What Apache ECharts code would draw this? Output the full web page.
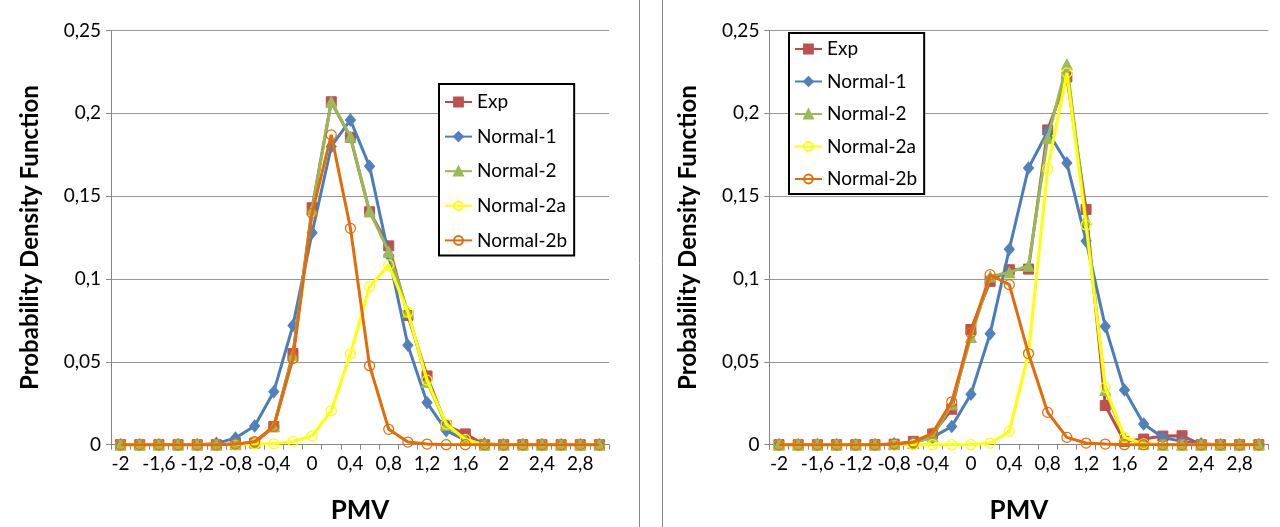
<!DOCTYPE html>
<html>
<head>
<meta charset="utf-8">
<script src="https://cdn.jsdelivr.net/npm/echarts@6/dist/echarts.min.js"></script>
<style>
html,body{margin:0;padding:0;background:#fff;}
#chart{width:1280px;height:527px;}
</style>
</head>
<body>
<div id="chart"></div>
<script>
// PMV categories (x axis)
var categories = [-2,-1.8,-1.6,-1.4,-1.2,-1,-0.8,-0.6,-0.4,-0.2,0,0.2,0.4,0.6,0.8,1,1.2,1.4,1.6,1.8,2,2.2,2.4,2.6,2.8,3];
var yTicks = [0, 0.05, 0.1, 0.15, 0.2, 0.25];
var seriesNames = ['Exp','Normal-1','Normal-2','Normal-2a','Normal-2b'];

// Left chart
var leftExp  = [0,0,0,0,0,0,0.0005,0.001,0.011,0.055,0.143,0.207,0.1855,0.1406,0.120,0.078,0.0415,0.0115,0.0065,0,0,0,0,0,0,0];
var leftN1   = [0,0,0,0,0,0.0008,0.004,0.0113,0.032,0.072,0.128,0.18,0.196,0.168,0.1145,0.060,0.0254,0.0085,0.0028,0.0005,0,0,0,0,0,0];
var leftN2   = [0,0,0,0,0,0,0.0003,0.0015,0.011,0.054,0.142,0.207,0.186,0.141,0.1165,0.080,0.038,0.012,0.003,0,0,0,0,0,0,0];
var leftN2a  = [0,0,0,0,0,0,0,0.0005,0.0005,0.002,0.0053,0.0205,0.0547,0.0954,0.1085,0.080,0.039,0.0125,0.0032,0,0,0,0,0,0,0];
var leftN2b  = [0,0,0,0,0,0,0.0003,0.0018,0.011,0.052,0.1397,0.187,0.1306,0.0477,0.0093,0.0016,0.0004,0,0,0,0,0,0,0,0,0];

// Right chart
var rightExp = [0,0,0,0,0,0,0.0003,0.002,0.0064,0.0214,0.0695,0.0986,0.1056,0.106,0.19,0.222,0.142,0.0237,0.002,0.0034,0.0052,0.0054,0,0,0,0];
var rightN1  = [0,0,0,0,0,0,0.0005,0.0014,0.0044,0.011,0.0305,0.067,0.118,0.167,0.189,0.170,0.123,0.0714,0.033,0.0125,0.0044,0.002,0.0005,0,0,0];
var rightN2  = [0,0,0,0,0,0,0.0003,0.001,0.005,0.0244,0.065,0.1016,0.104,0.108,0.185,0.2296,0.136,0.033,0.004,0.0005,0,0,0,0,0,0];
var rightN2a = [0,0,0,0,0,0,0,0,0,0,0,0.001,0.008,0.055,0.1666,0.2244,0.1326,0.0346,0.0044,0.0005,0,0,0,0,0,0];
var rightN2b = [0,0,0,0,0,0,0.0003,0.0014,0.007,0.0259,0.0675,0.1026,0.0966,0.055,0.0195,0.0044,0.001,0.0004,0,0,0,0,0,0,0,0];

var FONT = 'Lato';
var styles = [
  {symbol:'rect', size:10, line:'#BE4B48', fill:'#C0504D', border:'#C0504D'},
  {symbol:'diamond', size:[10,12], line:'#4A7EBB', fill:'#4F81BD', border:'#4F81BD'},
  {symbol:'triangle', size:11, line:'#98B954', fill:'#9BBB59', border:'#9BBB59'},
  {symbol:'circle', size:10, line:'#FFFF00', fill:'rgba(255,255,255,0)', border:'#FFFF00'},
  {symbol:'circle', size:10, line:'#E36C09', fill:'rgba(255,255,255,0)', border:'#E36C09'}
];

function comma(v){ return String(+(+v).toFixed(2)).replace('.', ','); }

function makeSeries(dataArr, axisIdx){
  return dataArr.map(function(d, k){
    var s = styles[k];
    return {
      name: seriesNames[k], type:'line', xAxisIndex:axisIdx, yAxisIndex:axisIdx,
      data: d, symbol: s.symbol, symbolSize: s.size, showAllSymbol:true,
      color: s.line,
      lineStyle:{color:s.line, width:3},
      itemStyle:{color:s.fill, borderColor:s.border, borderWidth: (k>=3?1.2:1)},
      emphasis:{disabled:true}, z: 2+k
    };
  });
}

function xAxis(idx){
  return {
    type:'category', gridIndex:idx, data:categories, boundaryGap:true,
    axisLine:{lineStyle:{color:'#868686', width:1}},
    axisTick:{show:true, interval:0, length:5, lineStyle:{color:'#868686'}},
    axisLabel:{interval:1, color:'#000', fontFamily:FONT, fontSize:19, margin:10, formatter:comma},
    splitLine:{show:false},
    name:'PMV', nameLocation:'middle', nameGap:53,
    nameTextStyle:{fontFamily:FONT, fontSize:26, fontWeight:'bold', color:'#000'}
  };
}
function yAxis(idx){
  return {
    type:'value', gridIndex:idx, min:yTicks[0], max:yTicks[yTicks.length-1], interval:yTicks[1]-yTicks[0],
    axisLine:{show:true, lineStyle:{color:'#868686'}},
    axisTick:{show:true, length:5, lineStyle:{color:'#868686'}},
    axisLabel:{color:'#000', fontFamily:FONT, fontSize:19, margin:10, formatter:comma},
    splitLine:{show:true, lineStyle:{color:'#979797', width:1}},
    name:'Probability Density Function', nameLocation:'middle', nameGap:69,
    nameTextStyle:{fontFamily:FONT, fontSize:24, fontWeight:'bold', color:'#000'}
  };
}

var chart = echarts.init(document.getElementById('chart'), null, {renderer:'canvas'});
var series = makeSeries([leftExp,leftN1,leftN2,leftN2a,leftN2b],0)
  .concat(makeSeries([rightExp,rightN1,rightN2,rightN2a,rightN2b],1));

chart.setOption({
  animation:false,
  backgroundColor:'#fff',
  textStyle:{fontFamily:FONT},
  grid:[
    {left:111, top:30.5, width:498, height:414.2, containLabel:false, outerBoundsMode:'none'},
    {left:769.4, top:30.5, width:499, height:414.2, containLabel:false, outerBoundsMode:'none'}
  ],
  xAxis:[xAxis(0), xAxis(1)],
  yAxis:[yAxis(0), yAxis(1)],
  legend:[
    {orient:'vertical', left:439, top:84, itemWidth:27, itemHeight:11, itemGap:14.6, padding:[8,7,5,5],
     borderColor:'#000', borderWidth:2, backgroundColor:'#fff', selectedMode:false,
     textStyle:{fontFamily:FONT, fontSize:19, color:'#000', lineHeight:20},
     data:seriesNames.slice()},
    {orient:'vertical', left:789, top:33, itemWidth:27, itemHeight:11, itemGap:12.5, padding:[6,7,5,5],
     borderColor:'#000', borderWidth:2, backgroundColor:'#fff', selectedMode:false,
     textStyle:{fontFamily:FONT, fontSize:19, color:'#000', lineHeight:20},
     data:seriesNames.slice()}
  ],
  graphic:[
    {type:'line', shape:{x1:639.5,y1:0,x2:639.5,y2:527}, style:{stroke:'#878787', lineWidth:1}, silent:true},
    {type:'line', shape:{x1:662.5,y1:0,x2:662.5,y2:527}, style:{stroke:'#878787', lineWidth:1}, silent:true}
  ],
  series: series
});
</script>
</body>
</html>
